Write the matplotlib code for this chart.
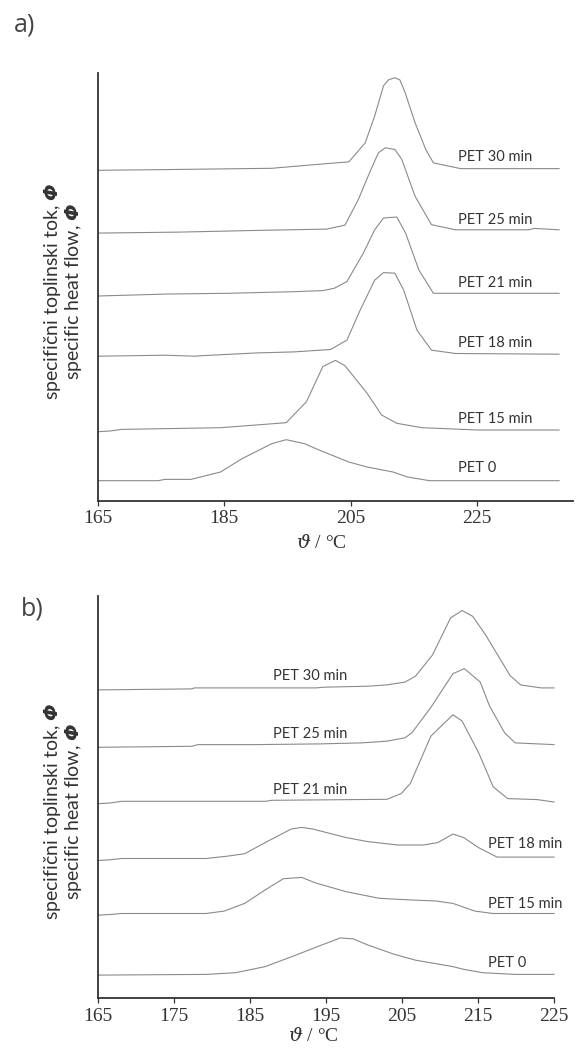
import matplotlib
matplotlib.use("Agg")
import matplotlib.pyplot as plt

# ---- data: panel a (temperature / degC, heat flow above own baseline, arbitrary units)
labels_a = ["PET 0", "PET 15 min", "PET 18 min", "PET 21 min", "PET 25 min", "PET 30 min"]
offsets_a = [20, 69, 144.5, 204.7, 267.6, 330.4]

t_a0 = [165, 174.5, 175.6, 179.7, 184.4, 187.8, 192.5, 194.8, 197.7, 200.1, 204.7, 207.6, 211.7, 214.0, 217.5, 238]
h_a0 = [0, 0, 1.3, 1.3, 8.7, 22, 37, 41, 37, 30.4, 18.7, 13.7, 8.7, 3.7, 0, 0]

t_a15 = [165, 166.9, 168.7, 184.4, 194.8, 198.0, 200.6, 202.6, 204.1, 207.6, 209.9, 212.3, 216.3, 225.1, 238]
h_a15 = [0, 0.7, 2.3, 4, 9, 30, 65.2, 71.3, 66, 38.5, 16.7, 8.4, 4, 1.7, 1.7]

t_a18 = [165, 175.6, 180.3, 182.0, 190.2, 196.0, 201.8, 204.4, 206.5, 208.8, 210.2, 212.0, 213.4, 215.5, 217.8, 221.6, 238]
h_a18 = [0, 1, 0, 0.7, 3.3, 4.3, 6.7, 16, 46, 76, 83.6, 83, 66, 26, 6, 2.7, 2]

t_a21 = [165, 176.2, 185.5, 196.0, 200.6, 202.4, 204.4, 207.0, 208.8, 210.2, 212.3, 213.7, 215.8, 218.1, 221.6, 238]
h_a21 = [0, 2, 2.7, 4.3, 5.4, 7.7, 14.4, 42.8, 66.2, 78, 79, 62.9, 26, 2.7, 2.7, 2.7]

t_a25 = [165, 178.0, 190.2, 201.2, 204.1, 206.2, 208.2, 209.4, 210.5, 212.0, 213.1, 215.2, 217.8, 221.6, 233.2, 234.1, 238]
h_a25 = [0, 1, 2.7, 4, 8, 33.4, 63.5, 80.3, 85.3, 83.6, 73.6, 36.8, 8.4, 3.3, 3.3, 4.7, 3.3]

t_a30 = [165, 175.6, 192.5, 201.2, 204.7, 207.3, 208.8, 210.2, 211.0, 212.0, 212.8, 213.6, 215.2, 216.9, 218.1, 222.4, 238]
h_a30 = [0, 0.7, 2, 6.7, 8.4, 27.4, 54.2, 84.5, 90.5, 92.6, 90.3, 78.0, 47.5, 20.7, 7.4, 1.7, 1.7]

temps_a = [t_a0, t_a15, t_a18, t_a21, t_a25, t_a30]
flows_a = [h_a0, h_a15, h_a18, h_a21, h_a25, h_a30]
xticks_a = [165, 185, 205, 225]

# ---- data: panel b
labels_b = ["PET 0", "PET 15 min", "PET 18 min", "PET 21 min", "PET 25 min", "PET 30 min"]
offsets_b = [23.6, 82.8, 137.5, 194.3, 250.7, 308.1]

t_b0 = [165, 179.2, 183.1, 187.0, 190.8, 194.2, 196.9, 198.6, 200.5, 203.9, 206.8, 211.7, 213.1, 215.6, 219.9, 225.0]
h_b0 = [-0.7, 0, 1.7, 7.8, 18.6, 28.7, 36.5, 35.5, 29.4, 20.3, 14.2, 7.8, 5.1, 1.7, 0, 0]

t_b15 = [165, 166.6, 168.1, 179.2, 181.6, 184.3, 187.0, 189.4, 191.8, 193.7, 197.6, 202.0, 206.3, 209.5, 211.7, 214.6, 217.0, 225.0]
h_b15 = [0, 0.7, 1.7, 1.7, 4.1, 11.8, 25.3, 36.5, 37.8, 32.1, 23.6, 16.9, 15.2, 14.2, 11.8, 4.1, 1.7, 1.7]

t_b18 = [165, 166.6, 168.1, 179.2, 182.1, 184.3, 187.0, 190.4, 191.8, 193.3, 197.6, 200.5, 204.4, 207.8, 209.7, 211.7, 213.1, 215.1, 217.5, 225.0]
h_b18 = [0, 0.7, 2, 2, 4.4, 6.8, 17.9, 31.4, 33.1, 31.4, 23, 18.9, 15.5, 15.5, 17.9, 26.4, 23, 12.8, 3.4, 3.4]

t_b21 = [165, 166.6, 168.1, 187.0, 187.9, 203.0, 204.9, 206.1, 208.8, 211.7, 212.9, 215.1, 217.0, 218.9, 222.8, 225.0]
h_b21 = [0, 0.7, 2.4, 2.4, 3.4, 4.4, 10.1, 20.3, 67.6, 88.9, 82.8, 50.7, 16.9, 5.1, 4.1, 1.7]

t_b25 = [165, 177.3, 178.2, 186.0, 194.2, 199.6, 203.0, 205.4, 206.3, 208.8, 211.7, 213.2, 215.3, 216.5, 218.5, 219.9, 225.0]
h_b25 = [0, 1, 2.7, 2.7, 3.4, 4.4, 6.1, 9.5, 14.5, 39.9, 73.6, 78.7, 65.2, 41.6, 14.5, 4.4, 2.7]

t_b30 = [165, 177.3, 177.7, 193.7, 194.7, 200.5, 203.0, 205.4, 206.8, 209.0, 211.4, 212.9, 214.3, 216.0, 219.2, 220.6, 223.3, 225.0]
h_b30 = [0, 1, 2, 2, 2.7, 3.7, 5, 7.8, 13.9, 34.8, 72, 79.4, 73.6, 55, 14.5, 5, 2, 2]

temps_b = [t_b0, t_b15, t_b18, t_b21, t_b25, t_b30]
flows_b = [h_b0, h_b15, h_b18, h_b21, h_b25, h_b30]
xticks_b = [165, 175, 185, 195, 205, 215, 225]

ylabel = "specifični toplinski tok, $\\Phi$\nspecific heat flow, $\\Phi$"
xlabel = "$\\vartheta$ / °C"

# label placement (temperature where text starts, lift above baseline)
lab_x_a = [222] * 6
lab_x_b = [216.3, 216.3, 216.3, 188.0, 188.0, 188.0]
lab_lift_a = 13
lab_lift_b = [11.2, 11.1, 16.9, 13.5, 13.5, 13.5]

line_col = "#8a8a8a"
axis_col = "#333333"
text_col = "#333333"
sans = ["Lato", "DejaVu Sans"]
serif = ["Liberation Serif", "DejaVu Serif"]
# Greek capitals are forced upright in mathtext, so point rm at a bold italic face
plt.rcParams["mathtext.fontset"] = "custom"
plt.rcParams["mathtext.rm"] = "DejaVu Sans:italic:bold"
plt.rcParams["mathtext.it"] = "DejaVu Serif:italic"
plt.rcParams["mathtext.fallback"] = "stix"

fig = plt.figure(figsize=(5.79, 10.48), dpi=100)
W, H = 579, 1048


def style_axes(ax, xlim, ylim, ticks):
    ax.set_xlim(*xlim)
    ax.set_ylim(*ylim)
    for s in ["top", "right"]:
        ax.spines[s].set_visible(False)
    for s in ["left", "bottom"]:
        ax.spines[s].set_color(axis_col)
        ax.spines[s].set_linewidth(1.3)
    ax.set_yticks([])
    ax.set_xticks(ticks)
    ax.tick_params(axis="x", direction="out", length=3.5, width=0.9,
                   color=axis_col, pad=3.5, labelsize=14, labelcolor=text_col)
    for lab in ax.get_xticklabels():
        lab.set_fontfamily(serif)


# panel a
ax_a = fig.add_axes([98 / W, 1 - 500.7 / H, (573 - 98) / W, (500.7 - 72.7) / H])
style_axes(ax_a, (165, 240.2), (0, 428), xticks_a)
for t, h, off, lab, lx in zip(temps_a, flows_a, offsets_a, labels_a, lab_x_a):
    ax_a.plot(t, [v + off for v in h], color=line_col, lw=0.8, solid_joinstyle="round")
    ax_a.text(lx, off + lab_lift_a, lab, fontsize=10.5, family=sans,
              color=text_col, ha="left", va="center")

# panel b
ax_b = fig.add_axes([98 / W, 1 - 998 / H, (554 - 98) / W, (998 - 596) / H])
style_axes(ax_b, (165, 225), (0, 402), xticks_b)
for t, h, off, lab, lx, lift in zip(temps_b, flows_b, offsets_b, labels_b, lab_x_b, lab_lift_b):
    ax_b.plot(t, [v + off for v in h], color=line_col, lw=0.8, clip_on=False,
              solid_joinstyle="round")
    ax_b.text(lx, off + lift, lab, fontsize=10.5, family=sans,
              color=text_col, ha="left", va="center")

# axis titles
fig.text(321 / W, 1 - 543 / H, xlabel, fontsize=14, family=serif, color=text_col,
         ha="center", va="center")
fig.text(313 / W, 1 - 1036 / H, xlabel, fontsize=14, family=serif, color=text_col,
         ha="center", va="center")
fig.text(63 / W, 1 - 291 / H, ylabel, fontsize=14, family=sans, color=text_col,
         rotation=90, ha="center", va="center", multialignment="center", linespacing=1.0)
fig.text(63 / W, 1 - 811 / H, ylabel, fontsize=14, family=sans, color=text_col,
         rotation=90, ha="center", va="center", multialignment="center", linespacing=1.0)

# panel letters
fig.text(14 / W, 1 - 25 / H, "a)", fontsize=18, family=["Open Sans", "DejaVu Sans"],
         color="#444444", ha="left", va="center")
fig.text(21 / W, 1 - 609 / H, "b)", fontsize=18, family=["Open Sans", "DejaVu Sans"],
         color="#444444", ha="left", va="center")

fig.savefig("out.png", dpi=100, facecolor="white")
